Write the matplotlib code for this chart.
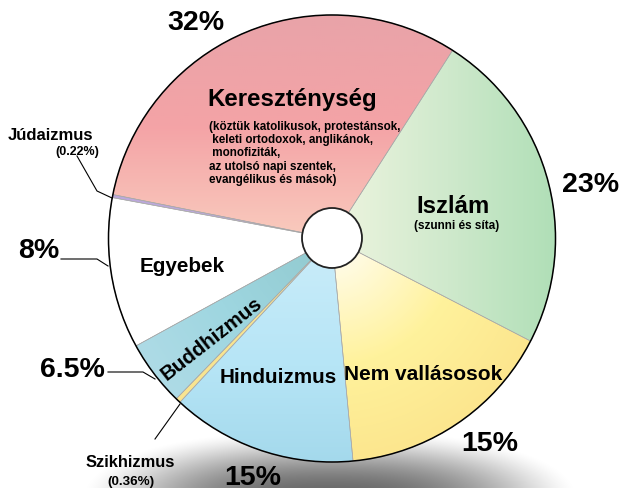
import matplotlib.pyplot as plt
import numpy as np
from matplotlib.colors import LinearSegmentedColormap
from matplotlib.patches import Circle

W, H = 623, 489

# wedge shares (percent of the circle), counter-clockwise
# starting at the bottom edge of "Nem vallásosok"
names = ['Nem vallásosok', 'Iszlám', 'Kereszténység', 'Júdaizmus',
         'Egyebek', 'Buddhizmus', 'Szikhizmus', 'Hinduizmus']
shares = [15.9, 23.5, 30.9, 0.22, 10.9, 4.75, 0.36, 13.4]
start_angle = -84.6

# the printed percentages
pct_labels = ['15%', '23%', '32%', '', '8%', '6.5%', '', '15%']
small_pct = {'Júdaizmus': '(0.22%)', 'Szikhizmus': '(0.36%)'}

christ_note = ['(köztük katolikusok, protestánsok,',
               ' keleti ortodoxok, anglikánok,',
               ' monofiziták,',
               'az utolsó napi szentek,',
               'evangélikus és mások)']
islam_note = '(szunni és síta)'

base_colors = ['#fff09a', '#c8e8c4', '#f2a8aa', '#bca8dc',
               '#ffffff', '#9fd4dc', '#f8e490', '#b8e4f4']

cx, cy, R = 332, H - 239.5, 223.5
hole_r = 30

plt.rcParams['font.family'] = ['Liberation Sans', 'DejaVu Sans']
plt.rcParams['font.weight'] = 'bold'

fig = plt.figure(figsize=(W / 100, H / 100), dpi=100)
ax = fig.add_axes([0, 0, 1, 1])


def py(y):
    # pixel row (from top) -> data y
    return H - y


# soft grey shadow under the pie
xs = np.linspace(0, W, 312)
ys = np.linspace(0, H, 245)
X, Y = np.meshgrid(xs, ys)
d = (np.abs(X - 330) / 250) ** 2.5 + (np.abs(Y - py(500)) / 68) ** 2
alpha = 0.6 * np.clip(1 - d, 0, 1) ** 1.5
shadow = np.zeros(X.shape + (4,))
shadow[..., 3] = alpha
ax.imshow(shadow, extent=(0, W, 0, H), origin='lower', zorder=0,
          interpolation='bilinear')

wedges, _ = ax.pie(shares, startangle=start_angle, counterclock=True,
                   center=(cx, cy), radius=R, colors=base_colors,
                   wedgeprops=dict(linewidth=0))
for w in wedges:
    w.set_zorder(1)

# colour gradients inside some of the wedges
Rr = np.hypot(X - cx, Y - cy)
grads = {
    'Kereszténység': (np.clip((py(16) - Y) / 220, 0, 1),
                      ['#e9a3a9', '#f4a3a6', '#f9cabd']),
    'Iszlám': (np.clip((X - 340) / 216, 0, 1),
               ['#ecf4de', '#cfe9cc', '#b0dfb7']),
    'Nem vallásosok': (np.clip((Rr - hole_r) / (R - hole_r), 0, 1),
                       ['#fffbe2', '#fff29c', '#fce68e']),
    'Hinduizmus': (np.clip((py(270) - Y) / 195, 0, 1),
                   ['#c6ebf9', '#b6e5f6', '#a4d9ec']),
    'Buddhizmus': (np.clip((Rr - hole_r) / (R - hole_r), 0, 1),
                   ['#94ccd2', '#9ed6e0', '#aedbe6']),
}
for name, (t, cols) in grads.items():
    w = wedges[names.index(name)]
    cmap = LinearSegmentedColormap.from_list(name, cols)
    im = ax.imshow(t, cmap=cmap, vmin=0, vmax=1, extent=(0, W, 0, H),
                   origin='lower', interpolation='bilinear', zorder=2)
    im.set_clip_path(w)

# thin separators between wedges
n0 = len(ax.patches)
ax.pie(shares, startangle=start_angle, counterclock=True, center=(cx, cy),
       radius=R, colors=['none'] * len(shares),
       wedgeprops=dict(linewidth=0.45, edgecolor='#a8a8a8'))
for p in ax.patches[n0:]:
    p.set_zorder(3)

ax.add_patch(Circle((cx, cy), R, fc='none', ec='black', lw=1.1, zorder=4))
ax.add_patch(Circle((cx, cy + 0.5), hole_r, fc='white', ec='#222222',
                    lw=1.3, zorder=4))

# big percentage labels
big = dict(fontsize=20.5, ha='center', va='center', zorder=6)
pct_pos = {'Kereszténység': (196, 23), 'Iszlám': (591, 185),
           'Nem vallásosok': (490, 444), 'Hinduizmus': (253, 478),
           'Egyebek': (39, 251), 'Buddhizmus': (72, 370)}
for name, lab in zip(names, pct_labels):
    if lab:
        x, y = pct_pos[name]
        ax.text(x, py(y), lab, **big)

# names inside the wedges
ax.text(292, py(106), 'Kereszténység', fontsize=17.3, ha='center',
        va='baseline', zorder=6)
for i, line in enumerate(christ_note):
    ax.text(209, py(127 + 13.2 * i), line, fontsize=8.4, ha='left',
            va='center', zorder=6)
ax.text(453, py(213), 'Iszlám', fontsize=17.2, ha='center', va='baseline',
        zorder=6)
ax.text(457, py(226), islam_note, fontsize=8.5, ha='center', va='center',
        zorder=6)
ax.text(182, py(272), 'Egyebek', fontsize=14.9, ha='center',
        va='baseline', zorder=6)
ax.text(278, py(383), 'Hinduizmus', fontsize=14.9, ha='center',
        va='baseline', zorder=6)
ax.text(423, py(380), 'Nem vallásosok', fontsize=15, ha='center',
        va='baseline', zorder=6)
ax.text(212, py(339), 'Buddhizmus', fontsize=14.8, ha='center',
        va='center', rotation=38, rotation_mode='anchor', zorder=6)

# small slices with leader lines
ax.text(50, py(140), 'Júdaizmus', fontsize=12, ha='center', va='baseline',
        zorder=6)
ax.text(77, py(152), small_pct['Júdaizmus'], fontsize=9, ha='center',
        va='center', zorder=6)
ax.text(130, py(467), 'Szikhizmus', fontsize=11.9, ha='center',
        va='baseline', zorder=6)
ax.text(131, py(482), small_pct['Szikhizmus'], fontsize=9.7, ha='center',
        va='center', zorder=6)

leaders = [
    ([77, 97, 112], [157, 192, 199]),
    ([61, 97, 108], [260, 260, 267]),
    ([108, 143, 155], [373, 373, 380]),
    ([180, 155], [405, 440]),
]
for lx, ly in leaders:
    ax.plot(lx, [py(v) for v in ly], color='black', lw=0.8, zorder=5)

ax.set_xlim(0, W)
ax.set_ylim(0, H)
ax.set_aspect('equal')
ax.axis('off')

fig.savefig('out.png', dpi=100)
